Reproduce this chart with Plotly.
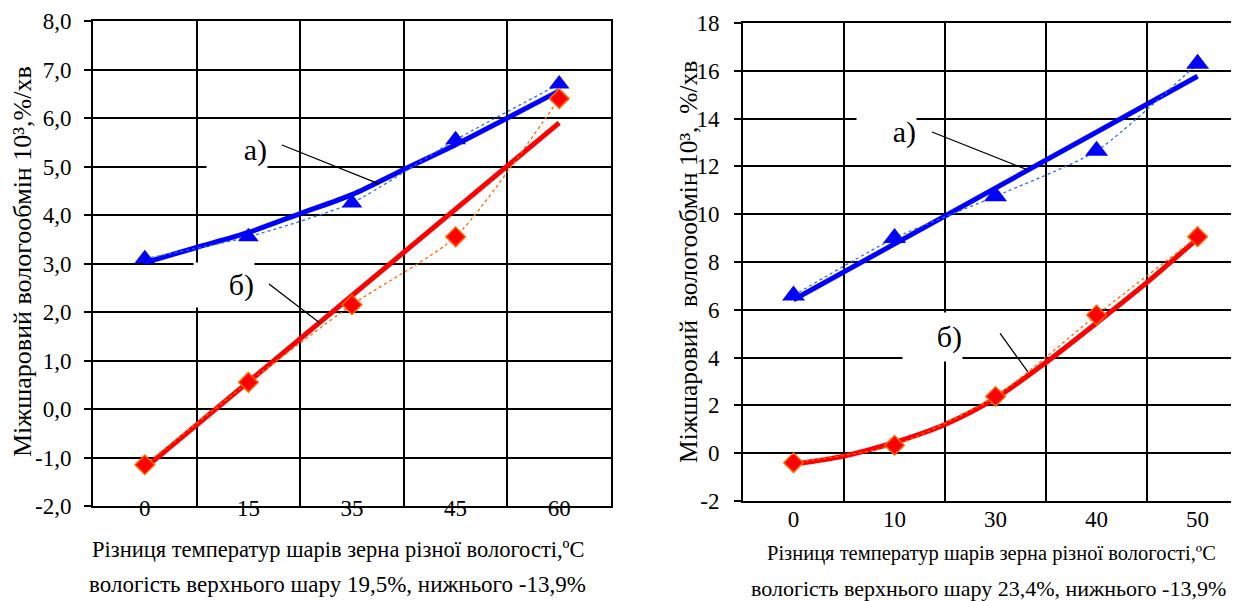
import plotly.graph_objects as go

# ---------------- data ----------------
cats_left = ["0", "15", "35", "45", "60"]
cats_right = ["0", "10", "30", "40", "50"]
pos = [0, 1, 2, 3, 4]

left_a = [3.1, 3.55, 4.25, 5.55, 6.7]
left_b = [-1.15, 0.55, 2.15, 3.55, 6.4]
right_a = [6.6, 9.0, 10.75, 12.65, 16.3]
right_b = [-0.4, 0.33, 2.37, 5.78, 9.06]

trend_pos = [0, 0.5, 1, 1.5, 2, 2.5, 3, 3.5, 4]
left_a_trend = [3.02, 3.33, 3.64, 4.03, 4.42, 4.94, 5.45, 6.0, 6.56]
line_pos = [0, 4]
left_b_trend = [-1.22, 5.9]
right_a_trend = [6.42, 15.77]
right_b_trend = [-0.46, -0.12, 0.45, 1.2, 2.3, 3.8, 5.45, 7.15, 8.98]

left_yticks = [-2, -1, 0, 1, 2, 3, 4, 5, 6, 7, 8]
left_ytext = ["-2,0", "-1,0", "0,0", "1,0", "2,0", "3,0", "4,0", "5,0", "6,0", "7,0", "8,0"]
right_yticks = [-2, 0, 2, 4, 6, 8, 10, 12, 14, 16, 18]
right_ytext = ["-2", "0", "2", "4", "6", "8", "10", "12", "14", "16", "18"]

ytitle_left = "Міжшаровий вологообмін 10³,%/хв"
ytitle_right = "Міжшаровий  вологообмін 10³,  %/хв"
xtitle_line1 = "Різниця температур шарів зерна різної вологості,ºC"
xtitle_left_line2 = "вологість верхнього шару 19,5%, нижнього -13,9%"
xtitle_right_line2 = "вологість верхнього шару 23,4%, нижнього -13,9%"

# label boxes: (text, x right edge, y centre, width, height, axis suffix)
label_boxes = [
    ("а)", 1.19, 5.34, 60, 44, ""),
    ("б)", 1.064, 2.56, 60, 44, ""),
    ("а)", 1.223, 13.45, 59, 42, "2"),
    ("б)", 1.678, 4.85, 59, 48, "2"),
]
# leader lines: (x0, y0, x1, y1, axis suffix)
leaders = [
    (1.324, 5.443, 2.26, 4.64, ""),
    (1.199, 2.577, 1.69, 1.773, ""),
    (1.371, 13.44, 2.32, 11.85, "2"),
    (2.045, 5.01, 2.32, 3.40, "2"),
]

FONT = "Liberation Serif, Times New Roman, serif"
BLUE = "#0000FF"
THINBLUE = "#3366FF"
RED = "#FF0000"
ORANGE = "#FF6600"

# the page body has an 8px margin; the figure is sized to fill the rest of the 1239x601 window
OFF = 8
PAGE_W, PAGE_H = 1239, 601
W, H = PAGE_W - OFF, PAGE_H - OFF

def fx(px):
    return (px - OFF) / W

def fy(py):
    return 1 - (py - OFF) / H

fig = go.Figure()

def add_series(xa, ya, xb, yb, ta_x, ta_y, tb_x, tb_y, xs, ys, tri_size):
    fig.add_trace(go.Scatter(x=ta_x, y=ta_y, mode="lines", line=dict(color=BLUE, width=5, shape="spline", smoothing=0.8),
                             xaxis=xs, yaxis=ys, hoverinfo="skip"))
    fig.add_trace(go.Scatter(x=tb_x, y=tb_y, mode="lines", line=dict(color=RED, width=5, shape="spline", smoothing=0.8),
                             xaxis=xs, yaxis=ys, hoverinfo="skip"))
    fig.add_trace(go.Scatter(x=xa, y=ya, mode="lines+markers",
                             line=dict(color=THINBLUE, width=1.3, dash="dot", shape="spline", smoothing=0.6),
                             marker=dict(symbol="triangle-up", size=tri_size, color=BLUE),
                             xaxis=xs, yaxis=ys))
    fig.add_trace(go.Scatter(x=xb, y=yb, mode="lines+markers",
                             line=dict(color=ORANGE, width=1.3, dash="dot", shape="spline", smoothing=0.6),
                             marker=dict(symbol="diamond", size=15, color=RED, line=dict(color=ORANGE, width=1.5)),
                             xaxis=xs, yaxis=ys))

add_series(pos, left_a, pos, left_b, trend_pos, left_a_trend, line_pos, left_b_trend, "x", "y", 18)
add_series(pos, right_a, pos, right_b, line_pos, right_a_trend, trend_pos, right_b_trend, "x2", "y2", 20)

common_x = dict(
    showgrid=False, zeroline=False, ticks="", automargin=False,
    showline=True, linecolor="black", linewidth=2, mirror=True,
    minor=dict(tickmode="linear", tick0=-0.5, dtick=1, showgrid=True, gridcolor="black", gridwidth=1.6, ticks=""),
    tickmode="array", tickvals=pos,
)
common_y = dict(
    showgrid=True, gridcolor="black", gridwidth=1.6, zeroline=False, automargin=False,
    ticks="outside", ticklen=7, tickwidth=1.5, tickcolor="black",
    showline=True, linecolor="black", linewidth=2,
    tickmode="array",
)

fig.update_layout(
    width=W, height=H,
    margin=dict(l=0, r=0, t=0, b=0, autoexpand=False),
    paper_bgcolor="white", plot_bgcolor="white",
    showlegend=False,
    font=dict(family=FONT, color="black"),
    xaxis=dict(common_x, domain=[fx(93), fx(611)], range=[-0.5, 4.5], ticktext=cats_left, anchor="y",
               ticklabelstandoff=-20, tickfont=dict(family=FONT, size=23, color="black")),
    yaxis=dict(common_y, domain=[fy(506), fy(21)], range=[-2, 8], tickvals=left_yticks, ticktext=left_ytext,
               anchor="x", mirror=True, ticklabelstandoff=8, tickfont=dict(family=FONT, size=23, color="black")),
    xaxis2=dict(common_x, domain=[fx(743), 1], range=[-0.5, 4.41], ticktext=cats_right, anchor="y2",
                ticklabelstandoff=-4, tickfont=dict(family=FONT, size=23, color="black")),
    yaxis2=dict(common_y, domain=[fy(501), fy(23)], range=[-2, 18], tickvals=right_yticks, ticktext=right_ytext,
                anchor="x2", mirror=False, ticklabelstandoff=10, tickfont=dict(family=FONT, size=23, color="black")),
)

# axis titles: (text, page x, page y, font size, angle)
titles = [
    (ytitle_left, 22, 262, 26, -90),
    (ytitle_right, 688, 262, 25.5, -90),
    (xtitle_line1, 338, 549, 22.5, 0),
    (xtitle_left_line2, 337, 584, 23, 0),
    (xtitle_line1, 991, 553, 20.5, 0),
    (xtitle_right_line2, 988, 588, 22, 0),
]
for text, px, py, size, ang in titles:
    fig.add_annotation(text=text, x=fx(px), y=fy(py), xref="paper", yref="paper",
                       xanchor="center", yanchor="middle", textangle=ang, showarrow=False,
                       font=dict(family=FONT, size=size, color="black"))

for text, xr, yc, w, h, s in label_boxes:
    fig.add_annotation(text=text, x=xr, y=yc, xref="x" + s, yref="y" + s,
                       xanchor="right", yanchor="middle", width=w, height=h,
                       align="right", valign="middle", bgcolor="white", borderpad=0,
                       showarrow=False, font=dict(family=FONT, size=30, color="black"))

for x0, y0, x1, y1, s in leaders:
    fig.add_shape(type="line", x0=x0, y0=y0, x1=x1, y1=y1, xref="x" + s, yref="y" + s,
                  line=dict(color="black", width=1.3))

fig.write_html("out.html")
